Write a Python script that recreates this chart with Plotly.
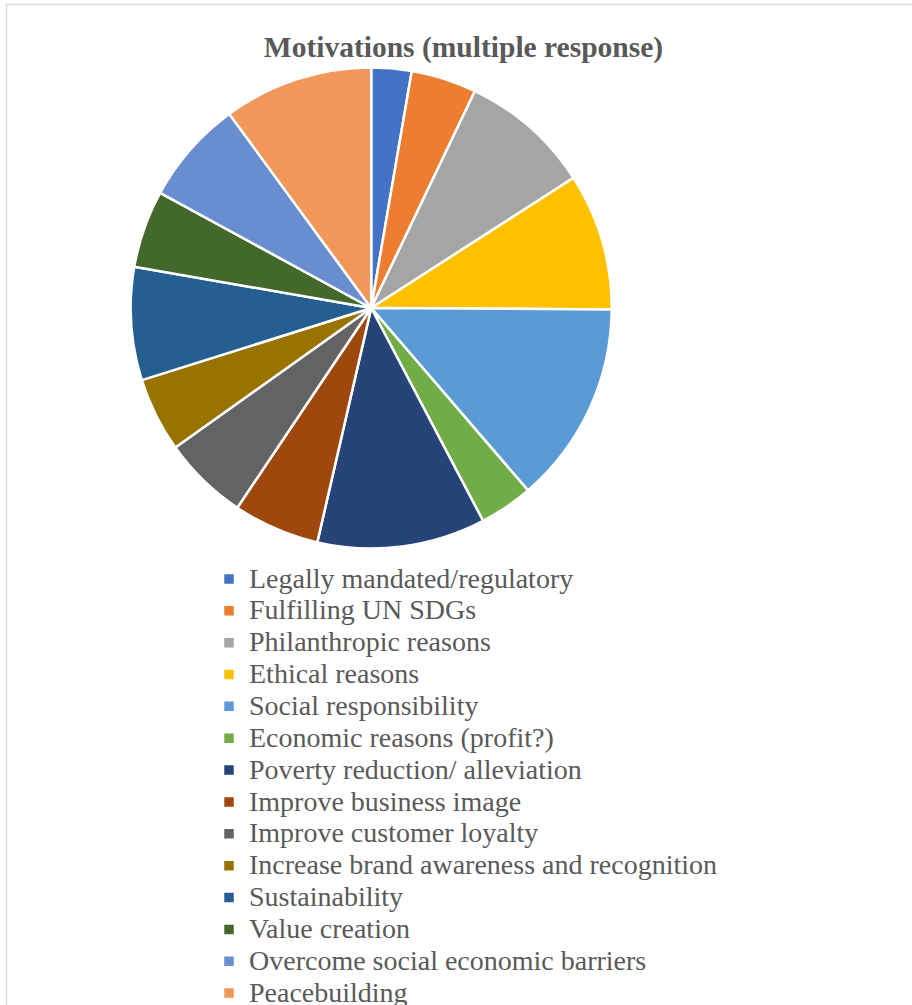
import plotly.graph_objects as go

labels = [
    "Legally mandated/regulatory",
    "Fulfilling UN SDGs",
    "Philanthropic reasons",
    "Ethical reasons",
    "Social responsibility",
    "Economic reasons (profit?)",
    "Poverty reduction/ alleviation",
    "Improve business image",
    "Improve customer loyalty",
    "Increase brand awareness and recognition",
    "Sustainability",
    "Value creation",
    "Overcome social economic barriers",
    "Peacebuilding",
]
values = [2.7, 4.4, 8.8, 9.2, 13.6, 3.6, 11.3, 5.8, 5.75, 5.0, 7.6, 5.2, 7.0, 10.05]
colors = ["#4472C4", "#ED7D31", "#A5A5A5", "#FFC000", "#5B9BD5", "#70AD47",
          "#264478", "#9E480E", "#636363", "#997300", "#255E91", "#43682B",
          "#698ED0", "#F1975A"]
title_text = "Motivations (multiple response)"

W, H = 912, 1005
legend_labels = ['<span style="font-size:28px">%s</span>' % l for l in labels]

fig = go.Figure(go.Pie(
    labels=legend_labels,
    values=values,
    sort=False,
    direction="clockwise",
    rotation=0,
    textinfo="none",
    hoverinfo="skip",
    marker=dict(colors=colors, line=dict(color="white", width=2.5)),
    domain=dict(x=[130.7 / W, 611.7 / W], y=[1 - 549 / H, 1 - 67 / H]),
))

fig.update_layout(
    width=W, height=H,
    margin=dict(l=0, r=0, t=0, b=0, autoexpand=False),
    paper_bgcolor="white",
    plot_bgcolor="white",
    title=dict(
        text="<b>%s</b>" % title_text,
        x=463.5 / W, xanchor="center",
        y=1 - 47 / H, yanchor="middle",
        font=dict(family="Liberation Serif", size=29.5, color="#595959"),
    ),
    legend=dict(
        x=209 / W, xanchor="left",
        y=1 - 558 / H, yanchor="top",
        font=dict(family="Liberation Serif", size=22.2, color="#595959"),
        bgcolor="rgba(0,0,0,0)",
        itemclick=False,
    ),
    shapes=[dict(
        type="rect", xref="paper", yref="paper",
        x0=6.5 / W, x1=1.05, y0=-0.05, y1=1 - 4.5 / H,
        line=dict(color="#D9D9D9", width=1.5),
        fillcolor="rgba(0,0,0,0)", layer="below",
    )],
)

fig.write_html("out.html")
